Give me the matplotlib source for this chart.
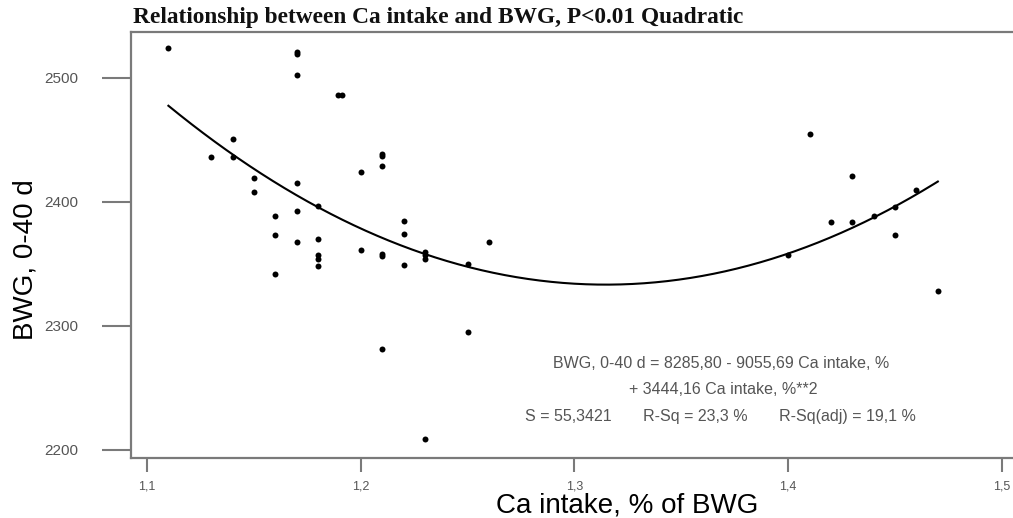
import numpy as np
import matplotlib
matplotlib.use('Agg')
import matplotlib.pyplot as plt

# Ca intake (% of BWG) and body weight gain 0-40 d
ca_intake = [1.11, 1.13, 1.14, 1.14, 1.15, 1.15, 1.16, 1.16, 1.16,
             1.17, 1.17, 1.17, 1.17, 1.17, 1.17,
             1.18, 1.18, 1.18, 1.18, 1.18, 1.1895, 1.191,
             1.20, 1.20, 1.21, 1.21, 1.21, 1.21, 1.21, 1.21,
             1.22, 1.22, 1.22, 1.23, 1.23, 1.23, 1.23,
             1.25, 1.25, 1.26,
             1.40, 1.41, 1.42, 1.43, 1.43, 1.44, 1.45, 1.45, 1.46, 1.47]
bwg = [2524, 2436, 2451, 2436, 2419, 2408, 2389, 2373, 2342,
       2521, 2519, 2502, 2415, 2393, 2368,
       2397, 2370, 2357, 2354, 2348, 2486, 2486,
       2424, 2361, 2439, 2437, 2429, 2358, 2356, 2281,
       2385, 2374, 2349, 2360, 2357, 2354, 2209,
       2350, 2295, 2368,
       2357, 2455, 2384, 2421, 2384, 2389, 2396, 2373, 2410, 2328]

# fitted quadratic (from the equation printed on the chart)
b0, b1, b2 = 8285.80, -9055.69, 3444.16

x_ticks = [1.1, 1.2, 1.3, 1.4, 1.5]
x_labels = ['1,1', '1,2', '1,3', '1,4', '1,5']
y_ticks = [2200, 2300, 2400, 2500]

grey = '#7a7a7a'

fig = plt.figure(figsize=(10.13, 5.18), dpi=100)
ax = fig.add_axes([131/1013, 1 - 458/518, 881/1013, 426/518])

ax.plot(ca_intake, bwg, 'o', color='black', markersize=4.3, markeredgewidth=0)

xs = np.linspace(min(ca_intake), max(ca_intake), 200)
ax.plot(xs, b0 + b1*xs + b2*xs**2, color='black', linewidth=1.5)

ax.set_xlim(1.0925, 1.5047)
ax.set_ylim(2193.5, 2537)

ax.set_xticks(x_ticks)
ax.set_xticklabels(x_labels)
ax.set_yticks(y_ticks)

for side in ['left', 'bottom', 'top']:
    ax.spines[side].set_color(grey)
    ax.spines[side].set_linewidth(1.6)
ax.spines['right'].set_visible(False)

ax.tick_params(axis='y', length=21, width=1.5, color=grey, pad=17,
               labelsize=11, labelcolor='#555555')
ax.tick_params(axis='x', length=10, width=1.5, color=grey, pad=6,
               labelsize=9, labelcolor='#555555')
for lab in ax.get_xticklabels() + ax.get_yticklabels():
    lab.set_family('Liberation Sans')

ax.set_xlabel('Ca intake, % of BWG', fontsize=20, family='Liberation Sans')
ax.xaxis.label.set_va('center')
ax.xaxis.set_label_coords((627 - 131)/881, (458 - 506)/426)
ax.set_ylabel('BWG, 0-40 d', fontsize=20, family='Liberation Sans')
ax.yaxis.label.set_va('center')
ax.yaxis.set_label_coords((25 - 131)/881, (458 - 260)/426)

fig.text(133/1013, 1 - 18/518,
         'Relationship between Ca intake and BWG, P<0.01 Quadratic',
         fontsize=16.8, fontweight='bold', family='Liberation Serif',
         va='center', ha='left', color='#111111')

txt_kw = dict(transform=ax.transAxes, ha='center', va='center',
              fontsize=11.5, color='#555555', family='Liberation Sans')
ax.text((721 - 131)/881, (458 - 363)/426,
        'BWG, 0-40 d = 8285,80 - 9055,69 Ca intake, %', **txt_kw)
ax.text((723 - 131)/881, (458 - 389)/426,
        '+ 3444,16 Ca intake, %**2', **txt_kw)
ax.text((720 - 131)/881, (458 - 417)/426,
        'S = 55,3421       R-Sq = 23,3 %       R-Sq(adj) = 19,1 %', **txt_kw)

fig.savefig('out.png', dpi=100)
